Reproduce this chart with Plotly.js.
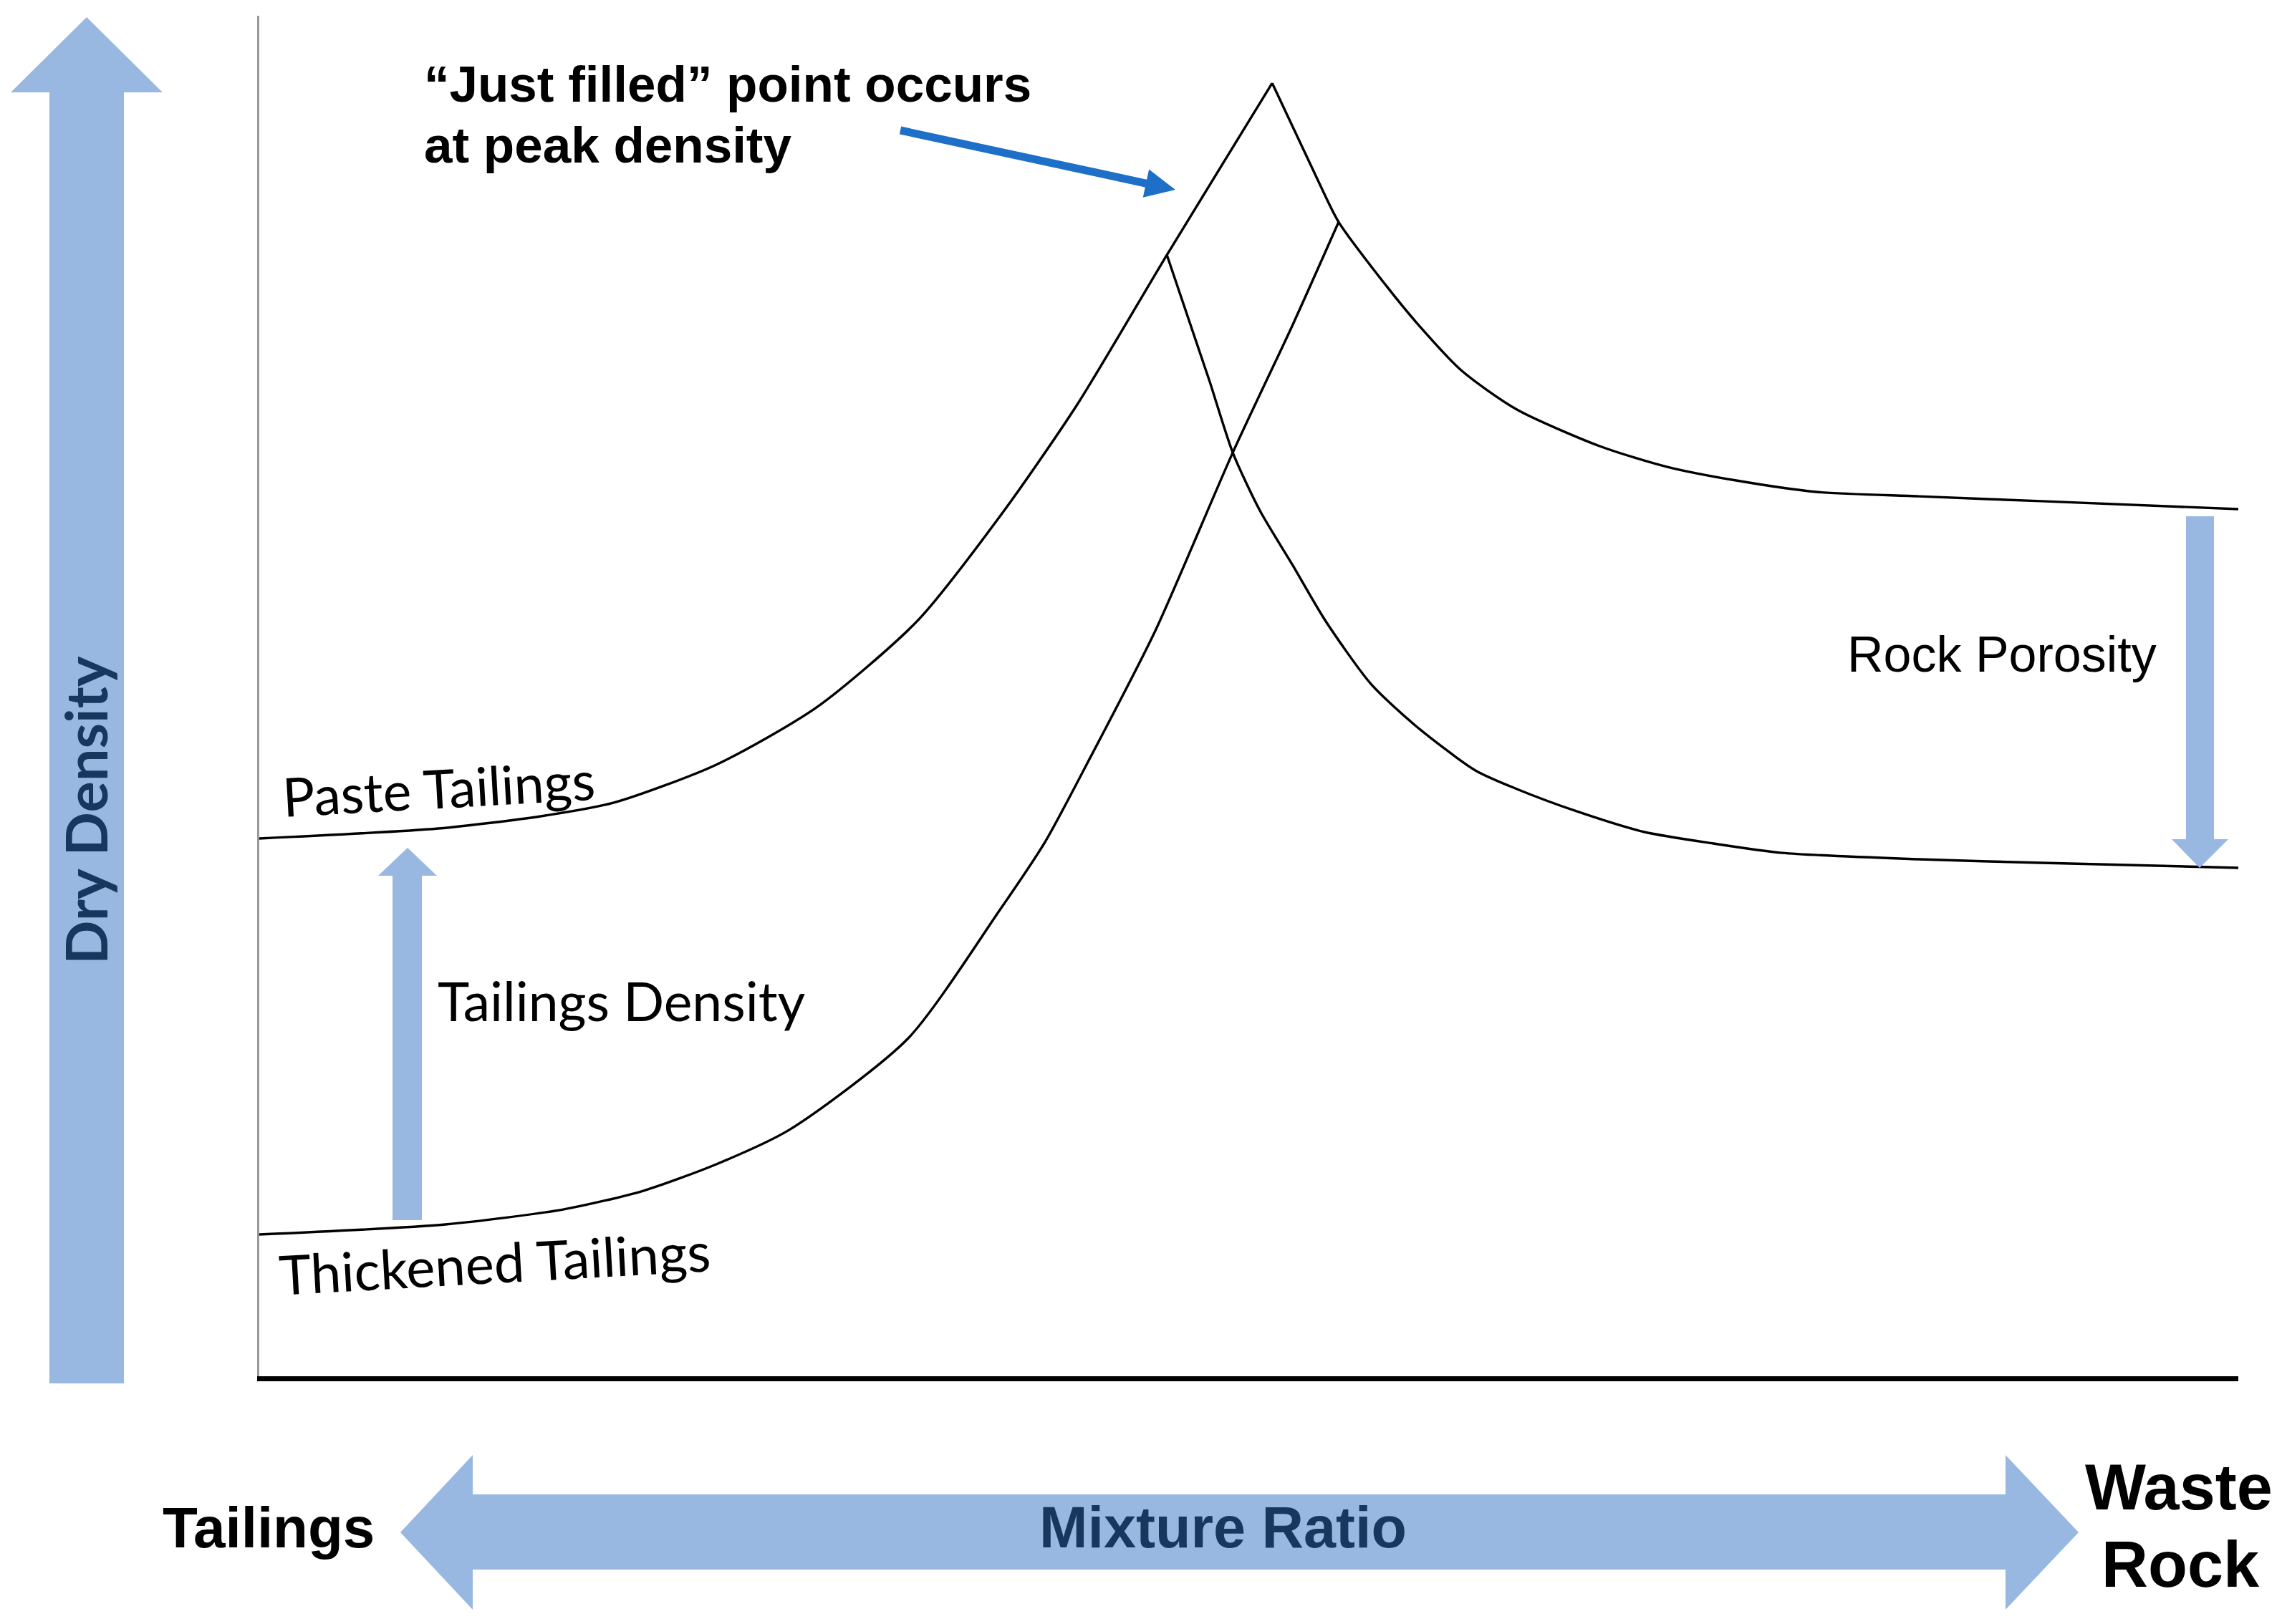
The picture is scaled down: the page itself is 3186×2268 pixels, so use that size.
<!DOCTYPE html>
<html>
<head>
<meta charset="utf-8">
<script src="https://cdn.plot.ly/plotly-3.0.1.min.js"></script>
<style>html,body{margin:0;padding:0;background:#fff;}#chart{width:3186px;height:2268px;}</style>
</head>
<body>
<div id="chart"></div>
<script>
// ---- Data (relative units: mixture ratio 0-100, dry density 0-100) ----
const pasteX = [0, 9.05, 14.22, 17.92, 23.09, 28.16, 33.26, 37.64, 41.33, 45.86, 51.18];
const pasteY = [39.53, 40.26, 41.16, 42.16, 44.95, 49.16, 55.53, 63.63, 71.42, 82.42, 95.05];

const rockUpperX = [51.18, 53.53, 54.54, 56.97, 58.49, 60.77, 63.55, 67.72, 71.15, 74.63, 78.68, 83.86, 90.05, 100];
const rockUpperY = [95.05, 87.79, 84.84, 80.11, 77.42, 73.89, 71.05, 68.37, 66.84, 65.84, 65.0, 64.68, 64.32, 63.74];

const thickX = [0, 9.41, 15.35, 19.40, 23.09, 26.78, 32.79, 37.39, 39.70, 41.80, 45.24, 49.19, 52.23, 54.54];
const thickY = [10.42, 11.16, 12.26, 13.63, 15.58, 18.11, 24.84, 34.21, 39.26, 44.95, 54.68, 67.89, 77.32, 84.84];

const rockLowerX = [45.86, 47.99, 49.19, 50.56, 52.23, 53.85, 56.17, 58.49, 61.45, 63.55, 66.56, 70.00, 73.47, 76.95, 83.86, 90.05, 100];
const rockLowerY = [82.42, 73.26, 67.89, 63.63, 59.58, 55.58, 50.89, 47.74, 44.53, 43.16, 41.53, 40.0, 39.16, 38.47, 38.0, 37.74, 37.37];

const seriesNames = ["Paste Tailings", "Rock + Paste Tailings", "Thickened Tailings", "Rock + Thickened Tailings"];

// ---- Geometry helpers (page pixels -> paper coords) ----
const L = 362, R = 3125, T = 22, B = 1922;
const W = R - L, H = B - T;
const px = X => (X - L) / W;
const py = Y => (B - Y) / H;
function poly(pts) {
  return 'M ' + pts.map(p => px(p[0]).toFixed(5) + ',' + py(p[1]).toFixed(5)).join(' L ') + ' Z';
}
function arrowPoly(x0, y0, x1, y1, sw, hw, hl) {
  const dx = x1 - x0, dy = y1 - y0, len = Math.hypot(dx, dy);
  const ux = dx / len, uy = dy / len, nx = -uy, ny = ux;
  const bx = x1 - hl * ux, by = y1 - hl * uy;
  return poly([
    [x0 + nx * sw / 2, y0 + ny * sw / 2],
    [bx + nx * sw / 2, by + ny * sw / 2],
    [bx + nx * hw / 2, by + ny * hw / 2],
    [x1, y1],
    [bx - nx * hw / 2, by - ny * hw / 2],
    [bx - nx * sw / 2, by - ny * sw / 2],
    [x0 - nx * sw / 2, y0 - ny * sw / 2]
  ]);
}

const lightBlue = '#98B8E2';
const navy = '#17375E';
const arial = 'Liberation Sans, Arial, sans-serif';
const calibri = 'Lato, Carlito, sans-serif';

const lineStyle = {color: '#000', width: 3.4, shape: 'spline', smoothing: 0.7};
const traces = [
  {x: pasteX, y: pasteY, name: seriesNames[0]},
  {x: rockUpperX, y: rockUpperY, name: seriesNames[1]},
  {x: thickX, y: thickY, name: seriesNames[2]},
  {x: rockLowerX, y: rockLowerY, name: seriesNames[3]}
].map(t => Object.assign(t, {type: 'scatter', mode: 'lines', line: lineStyle, hoverinfo: 'skip'}));

const shapes = [
  // big vertical arrow (Dry Density)
  {type: 'path', xref: 'paper', yref: 'paper', fillcolor: lightBlue, line: {width: 0},
   path: poly([[121, 24], [227, 129], [173, 129], [173, 1932], [69, 1932], [69, 129], [15, 129]])},
  // double headed horizontal arrow (Mixture Ratio)
  {type: 'path', xref: 'paper', yref: 'paper', fillcolor: lightBlue, line: {width: 0},
   path: poly([[559, 2140], [660, 2032], [660, 2087], [2800, 2087], [2800, 2032], [2902, 2140],
               [2800, 2248], [2800, 2192], [660, 2192], [660, 2248]])},
  // tailings density arrow
  {type: 'path', xref: 'paper', yref: 'paper', fillcolor: lightBlue, line: {width: 0},
   path: poly([[569, 1184], [610, 1223], [589, 1223], [589, 1704], [548, 1704], [548, 1223], [528, 1223]])},
  // rock porosity arrow
  {type: 'path', xref: 'paper', yref: 'paper', fillcolor: lightBlue, line: {width: 0},
   path: poly([[3071, 1212], [3111, 1172], [3091, 1172], [3091, 721], [3052, 721], [3052, 1172], [3032, 1172]])},
  // pointer arrow to peak
  {type: 'path', xref: 'paper', yref: 'paper', fillcolor: '#1E6FC8', line: {width: 0},
   path: arrowPoly(1257, 182, 1641, 265, 11, 40, 42)}
];

function ann(text, X, Y, font, extra) {
  return Object.assign({
    text: text, xref: 'paper', yref: 'paper', x: px(X), y: py(Y),
    xanchor: 'center', yanchor: 'middle', showarrow: false, font: font
  }, extra || {});
}

const annotations = [
  ann('\u201cJust filled\u201d point occurs', 590, 117, {family: arial, size: 71, color: '#000', weight: 'bold'}, {xanchor: 'left'}),
  ann('at peak density', 590, 203, {family: arial, size: 71, color: '#000', weight: 'bold'}, {xanchor: 'left'}),
  ann('Paste Tailings', 612, 1100, {family: calibri, size: 75, color: '#000'}, {textangle: -3.2}),
  ann('Thickened Tailings', 690, 1762, {family: calibri, size: 76, color: '#000'}, {textangle: -3.2}),
  ann('Tailings Density', 868, 1397, {family: calibri, size: 75, color: '#000'}),
  ann('Rock Porosity', 2795, 914, {family: arial, size: 70, color: '#000'}),
  ann('Dry Density', 118, 1132, {family: calibri, size: 81, color: navy, weight: 'bold'}, {textangle: -90}),
  ann('Mixture Ratio', 1707, 2133, {family: arial, size: 81, color: navy, weight: 'bold'}),
  ann('Tailings', 375, 2133, {family: arial, size: 80, color: '#000', weight: 'bold'}),
  ann('Waste', 3042, 2077, {family: arial, size: 90, color: '#000', weight: 'bold'}),
  ann('Rock', 3044, 2185, {family: arial, size: 90, color: '#000', weight: 'bold'})
];

const layout = {
  width: 3186, height: 2268,
  margin: {l: L, r: 3186 - R, t: T, b: 2268 - B, pad: 0},
  paper_bgcolor: '#fff', plot_bgcolor: '#fff',
  showlegend: false,
  xaxis: {range: [0, 100], showline: true, linecolor: '#000', linewidth: 7, showgrid: false,
          zeroline: false, showticklabels: false, ticks: '', fixedrange: true},
  yaxis: {range: [0, 100], showline: true, linecolor: '#9a9a9a', linewidth: 3, showgrid: false,
          zeroline: false, showticklabels: false, ticks: '', fixedrange: true},
  shapes: shapes,
  annotations: annotations
};

Plotly.newPlot('chart', traces, layout, {staticPlot: true, displayModeBar: false});
</script>
</body>
</html>
